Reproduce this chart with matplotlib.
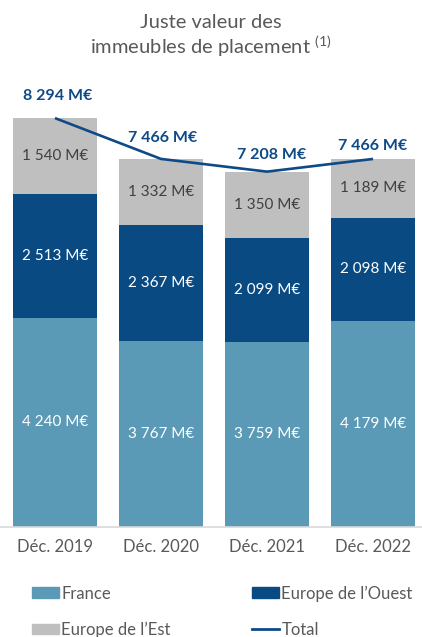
import matplotlib

matplotlib.use("Agg")
import matplotlib.pyplot as plt
from matplotlib.lines import Line2D
from matplotlib.patches import Patch

years = ["Déc. 2019", "Déc. 2020", "Déc. 2021", "Déc. 2022"]
france = [4240, 3767, 3759, 4179]
europe_ouest = [2513, 2367, 2099, 2098]
europe_est = [1540, 1332, 1350, 1189]
total = [8294, 7466, 7208, 7466]

C_FRANCE = "#5b9ab6"
C_OUEST = "#0a4a82"
C_EST = "#bfbfbf"
C_LINE = "#0d4a86"
C_TXT = "#595959"

plt.rcParams["font.family"] = ["Lato", "DejaVu Sans"]


def fmt(v):
    return f"{v:,}".replace(",", " ") + " M€"


fig = plt.figure(figsize=(4.22, 6.37), dpi=100)
ax = fig.add_axes([0.0, 110 / 637, 1.0, 443.7 / 637])

x = range(len(years))
w = 0.79
ax.bar(x, france, w, color=C_FRANCE, zorder=2)
ax.bar(x, europe_ouest, w, bottom=france, color=C_OUEST, zorder=2)
bottoms_est = [a + b for a, b in zip(france, europe_ouest)]
ax.bar(x, europe_est, w, bottom=bottoms_est, color=C_EST, zorder=2)
ax.plot(x, total, color=C_LINE, lw=1.9, zorder=3, solid_capstyle="butt")

for i in x:
    ax.text(i, france[i] / 2, fmt(france[i]), ha="center", va="center",
            color="white", fontsize=11)
    ax.text(i, france[i] + europe_ouest[i] / 2, fmt(europe_ouest[i]),
            ha="center", va="center", color="white", fontsize=11)
    ax.text(i, bottoms_est[i] + europe_est[i] / 2, fmt(europe_est[i]),
            ha="center", va="center", color="#404040", fontsize=11)

# total labels sit a little above each line point
lift = [11, 10, 7, 4]
nudge = [2, 1, 3, 0]
for i in x:
    ax.annotate(fmt(total[i]), (i, total[i]), xytext=(nudge[i], lift[i]),
                textcoords="offset points", ha="center", va="bottom",
                color=C_LINE, fontsize=11.5, fontweight="bold")

ax.set_xlim(-0.519, 3.462)
ax.set_ylim(0, 9000)
ax.set_yticks([])
ax.set_xticks(list(x))
ax.set_xticklabels(years, fontsize=12, color=C_TXT)
ax.tick_params(axis="x", length=0, pad=9)
for s in ["top", "right", "left"]:
    ax.spines[s].set_visible(False)
ax.spines["bottom"].set_color("#d9d9d9")
ax.spines["bottom"].set_linewidth(1.2)

fig.text(0.5, 1 - 22 / 637, "Juste valeur des", ha="center", va="center",
         fontsize=14.5, color=C_TXT)
fig.text(0.5, 1 - 46 / 637, r"immeubles de placement $^{\mathregular{(1)}}$",
         ha="center", va="center", fontsize=14.5, color=C_TXT)

# legend fills column by column: France / Est, then Ouest / Total
handles = [
    Patch(color=C_FRANCE, label="France"),
    Patch(color=C_EST, label="Europe de l’Est"),
    Patch(color=C_OUEST, label="Europe de l’Ouest"),
    Line2D([], [], color=C_LINE, lw=2, label="Total"),
]
fig.legend(handles=handles, loc="lower left", bbox_to_anchor=(0.04, -0.025),
           ncol=2, frameon=False, fontsize=12, labelcolor=C_TXT,
           handlelength=1.6, handleheight=0.6, handletextpad=0.15,
           columnspacing=4.9, labelspacing=1.2)

fig.savefig("out.png", dpi=100)
